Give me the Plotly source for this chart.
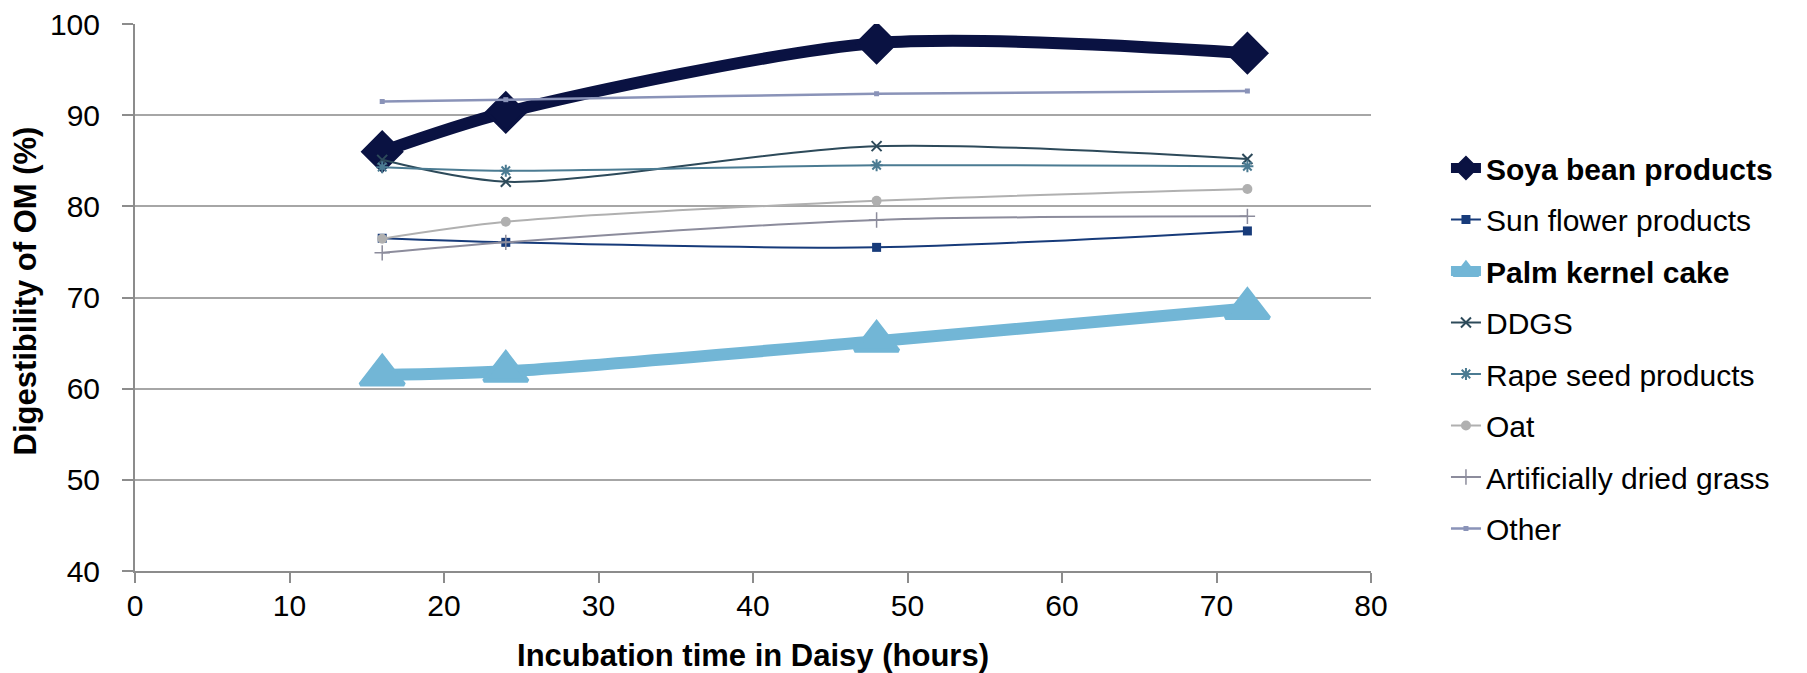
import plotly.graph_objects as go

# ---- data ----
hours = [16, 24, 48, 72]
soya_bean = [86.0, 90.3, 97.9, 96.8]
sun_flower = [76.5, 76.05, 75.5, 77.3]
palm_kernel = [61.5, 61.9, 65.2, 68.8]
ddgs = [85.1, 82.7, 86.6, 85.2]
rape_seed = [84.3, 83.9, 84.5, 84.4]
oat = [76.45, 78.3, 80.6, 81.9]
dried_grass = [74.9, 76.05, 78.5, 78.9]
other = [91.5, 91.7, 92.35, 92.65]

series_names = ["<b>Soya bean products</b>", "Sun flower products", "<b>Palm kernel cake</b>",
                "DDGS", "Rape seed products", "Oat", "Artificially dried grass", "Other"]
y_ticks = [40, 50, 60, 70, 80, 90, 100]
x_ticks = [0, 10, 20, 30, 40, 50, 60, 70, 80]
x_title = "<b>Incubation time in Daisy (hours)</b>"
y_title = "<b>Digestibility of OM (%)</b>"

FONT = "Liberation Sans, Arial, sans-serif"

styles = [
    dict(color="#0a1242", width=12, symbol="diamond", size=30, mline=3),
    dict(color="#173b7a", width=2, symbol="square", size=9, mline=0),
    dict(color="#72b6d6", width=12, symbol="triangle-up", size=38, mline=4),
    dict(color="#2d4a5a", width=2, symbol="x-thin-open", size=10, mline=2),
    dict(color="#4b7b92", width=2, symbol="asterisk-open", size=10, mline=2),
    dict(color="#b0b0b0", width=2, symbol="circle", size=10, mline=0),
    dict(color="#8c8c9c", width=2, symbol="cross-thin-open", size=11, mline=1.5),
    dict(color="#8a93b8", width=2.5, symbol="square", size=5, mline=0),
]
values = [soya_bean, sun_flower, palm_kernel, ddgs, rape_seed, oat, dried_grass, other]

fig = go.Figure()
for name, vals, st in zip(series_names, values, styles):
    fig.add_trace(go.Scatter(
        x=hours, y=vals, name=name, mode="lines+markers",
        line=dict(color=st["color"], width=st["width"], shape="spline", smoothing=0.8),
        marker=dict(symbol=st["symbol"], size=st["size"], color=st["color"],
                    line=dict(color=st["color"], width=st["mline"])),
        legendgroup=name,
    ))

fig.update_layout(
    width=1807, height=673, autosize=False,
    margin=dict(l=135, r=436, t=24, b=102, pad=0),
    plot_bgcolor="white", paper_bgcolor="white",
    font=dict(family=FONT, size=31, color="black"),
    showlegend=True,
    legend=dict(xref="container", yref="container", x=0.8002, y=0.789,
                xanchor="left", yanchor="top", maxheight=600,
                font=dict(family=FONT, size=30, color="black"),
                tracegroupgap=9.5, itemwidth=30, bgcolor="rgba(0,0,0,0)"),
    xaxis=dict(range=[0, 80], tickvals=x_ticks, showgrid=False, zeroline=False,
               showline=True, linecolor="#8c8c8c", linewidth=2,
               ticks="outside", ticklen=10, tickwidth=2, tickcolor="#8c8c8c",
               tickfont=dict(size=30), ticklabelstandoff=-3, automargin=False,
               title=dict(text=x_title, font=dict(size=31), standoff=33)),
    yaxis=dict(range=[40, 100], tickvals=y_ticks, showgrid=True, gridcolor="#a6a6a6",
               gridwidth=2, zeroline=False, showline=True, linecolor="#8c8c8c", linewidth=2,
               ticks="outside", ticklen=11, tickwidth=2, tickcolor="#8c8c8c",
               tickfont=dict(size=30), ticklabelstandoff=16, automargin=False),
    annotations=[dict(text=y_title, xref="paper", yref="paper", x=0, y=0.5,
                      xanchor="center", yanchor="middle", xshift=-110, yshift=6,
                      textangle=-90, showarrow=False, font=dict(size=31, family=FONT))],
)

fig.write_html("out.html")
